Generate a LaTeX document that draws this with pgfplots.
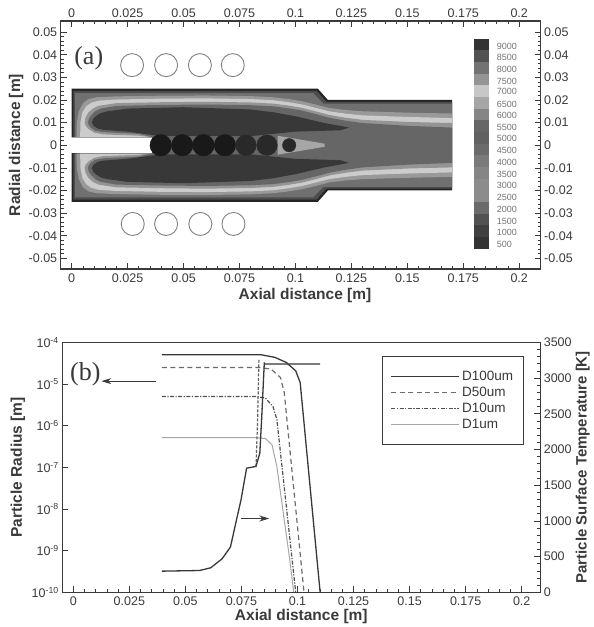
\documentclass[border=0pt]{standalone}
\usepackage{pgfplots}
\pgfplotsset{compat=1.18}
\usepackage{pgfplotstable}
\usepackage{fontspec}
\usetikzlibrary{arrows.meta}
\setmainfont{Liberation Sans}
\newfontfamily\serifnum{Liberation Serif}
\definecolor{ink}{HTML}{3a3a3a}
\pgfplotstableread{
x y
0 .0035
0 .025
.110 .025
.1145 .020
.170 .020
.170 0
.036 0
.036 .0035
}\SA
\pgfplotstableread{
x y
.0008 .0036
.0008 .0240
.1095 .0240
.1138 .0192
.170 .0192
.170 0
.036 0
.036 .0036
}\SB
\pgfplotstableread{
x y
.0016 .0037
.0016 .0230
.108 .0230
.1125 .0184
.170 .0184
.170 0
.036 0
.036 .0037
}\SBB
\pgfplotstableread{
x y
.0022 .0037
.0023 .010
.0032 .0150
.0050 .0185
.0075 .0204
.011 .0212
.02 .0216
.04 .0219
.06 .0220
.08 .0217
.09 .0212
.097 .0204
.103 .0194
.109 .0180
.115 .0165
.122 .0156
.13 .0150
.15 .0144
.17 .0140
.17 0
.036 0
.036 .0037
}\SC
\pgfplotstableread{
x y
.0038 .0037
.0039 .010
.0048 .0145
.0065 .0172
.0088 .0188
.012 .0197
.02 .0202
.04 .0206
.06 .0207
.08 .0204
.09 .0199
.097 .0190
.103 .0180
.109 .0165
.115 .0150
.122 .0140
.13 .0132
.15 .0125
.17 .0120
.17 0
.036 0
.036 .0037
}\SD
\pgfplotstableread{
x y
.0058 .0100
.0062 .0122
.0075 .0145
.0095 .0162
.012 .0174
.02 .0186
.04 .0190
.06 .0192
.08 .0189
.09 .0184
.097 .0175
.103 .0165
.109 .0150
.115 .0134
.122 .0122
.13 .0112
.15 .0103
.17 .0098
.17 0
.036 0
.036 .0035
.03 .0042
.014 .0048
.0100 .0056
.0075 .0072
.0063 .0086
}\SE
\pgfplotstableread{
x y
.0072 .0100
.0078 .0120
.009 .0135
.0105 .0150
.013 .0162
.02 .0174
.04 .0178
.06 .0180
.08 .0177
.09 .0172
.097 .0163
.103 .0153
.109 .0138
.115 .0122
.122 .0109
.13 .0098
.15 .0086
.17 .0078
.17 0
.036 0
.036 .0035
.03 .0050
.014 .0058
.0105 .0064
.0085 .0078
.0076 .0090
}\SF
\pgfplotstableread{
x y
.0090 .0100
.0097 .0118
.011 .0130
.013 .0142
.016 .0150
.025 .0162
.05 .0168
.08 .0158
.09 .0146
.1 .0128
.113 .0098
.124 .0078
.12 .0066
.1 .0060
.08 .0040
.04 .0040
.025 .0060
.014 .0068
.0115 .0074
.0098 .0086
}\SG
\newcommand\band[3]{\addplot[fill=#3,draw=none] coordinates {(.1798,#1)(.1865,#1)(.1865,#2)(.1798,#2)} --cycle;}
\newcommand\blab[2]{\node[font=\fontsize{9}{10}\selectfont,text=black!55,anchor=west,inner sep=0pt] at (axis cs:.1899,#1) {#2};}
\newcommand\layer[2]{%
\addplot[fill=#2,draw=none] table[x=x,y=y] {#1} --cycle;
\addplot[fill=#2,draw=none] table[x=x,y expr=-\thisrow{y}] {#1} --cycle;}
\pgfplotsset{
 common/.style={scale only axis,clip=false,
  axis line style={ink,line width=1.1pt},
  tick style={ink,line width=.7pt},
  major tick length=6pt,minor tick length=3pt,
  scaled x ticks=false,scaled y ticks=false,
  ticklabel style={font=\fontsize{12.5}{14}\selectfont,text=ink},
  label style={font=\fontsize{15.5}{17}\selectfont\bfseries,text=ink},
  xtick={0,.025,.05,.075,.1,.125,.15,.175,.2},
  xticklabels={0,0.025,0.05,0.075,0.1,0.125,0.15,0.175,0.2},
  minor x tick num=4,
  xticklabel style={yshift=-1pt},
 },
 ya/.style={ytick={-.05,-.04,-.03,-.02,-.01,0,.01,.02,.03,.04,.05},
  yticklabels={-0.05,-0.04,-0.03,-0.02,-0.01,0,0.01,0.02,0.03,0.04,0.05},
  minor y tick num=4}
}
\begin{document}
\begin{tikzpicture}[x=1pt,y=1pt]
\path (0,0) rectangle (591,627);
% ---------- panel (a)
\begin{axis}[common,ya,at={(60.7pt,358pt)},anchor=south west,width=480pt,height=248pt,
 xmin=-.0049,xmax=.2096,ymin=-.0547,ymax=.0549,
 xtick pos=bottom,ytick pos=left,axis on top,
 xlabel={Axial distance [m]},ylabel={Radial distance [m]},
 xlabel style={at={(axis description cs:.509,0)},anchor=center,yshift=-26pt},
 ylabel style={at={(axis description cs:-.093,.5)},anchor=center}]
\layer{\SA}{black!86}
\layer{\SB}{black!70}
\layer{\SBB}{black!56}
\layer{\SC}{black!40}
\layer{\SD}{black!20}
\layer{\SE}{black!42}
\layer{\SF}{black!60}
\layer{\SG}{black!78}
\addplot[fill=black!35,draw=none] coordinates {(.092,.0042)(.113,.0007)(.113,-.0007)(.092,-.0042)} --cycle;
\addplot[only marks,mark=*,mark size=10.8pt,mark options={fill=black!90,draw=black!90}] coordinates {(.0398,0)(.0494,0)(.0589,0)(.0685,0)};
\addplot[only marks,mark=*,mark size=10.3pt,mark options={fill=black!84,draw=black!84}] coordinates {(.0779,0)(.0873,0)};
\addplot[only marks,mark=*,mark size=6.7pt,mark options={fill=black!84,draw=black!84}] coordinates {(.0972,0)};
\addplot[only marks,mark=o,mark size=11.5pt,mark options={draw=black!50,line width=.9pt}] coordinates {(.027,.0354)(.0422,.0354)(.0573,.0354)(.072,.0354)(.0273,-.0348)(.0422,-.0348)(.0575,-.0348)(.0723,-.0348)};
\band{.04705}{.0419}{black!80}
\band{.0419}{.03675}{black!68}
\band{.03675}{.0316}{black!55}
\band{.0316}{.02645}{black!42}
\band{.02645}{.0213}{black!22}
\band{.0213}{.01615}{black!35}
\band{.01615}{.011}{black!48}
\band{.011}{.00585}{black!60}
\band{.00585}{.0007}{black!62}
\band{.0007}{-.00445}{black!58}
\band{-.00445}{-.0096}{black!52}
\band{-.0096}{-.01475}{black!48}
\band{-.01475}{-.0199}{black!45}
\band{-.0199}{-.02505}{black!45}
\band{-.02505}{-.0302}{black!58}
\band{-.0302}{-.03535}{black!68}
\band{-.03535}{-.0405}{black!75}
\band{-.0405}{-.04565}{black!80}
\blab{.0437}{9000}\blab{.0386}{8500}\blab{.0336}{8000}\blab{.0284}{7500}
\blab{.0236}{7000}\blab{.0182}{6500}\blab{.0132}{6000}\blab{.0079}{5500}
\blab{.0028}{5000}\blab{-.0024}{4500}\blab{-.0075}{4000}\blab{-.0127}{3500}
\blab{-.0178}{3000}\blab{-.0232}{2500}\blab{-.0282}{2000}\blab{-.0335}{1500}
\blab{-.0385}{1000}\blab{-.0437}{500}
\node[font=\serifnum\fontsize{26}{28}\selectfont,text=ink,anchor=west,inner sep=0pt] at (axis cs:.0011,.0385) {(a)};
\end{axis}
\begin{axis}[common,ya,at={(60.7pt,358pt)},anchor=south west,width=480pt,height=248pt,
 xmin=-.0049,xmax=.2096,ymin=-.0547,ymax=.0549,
 xtick pos=top,ytick pos=right,xticklabel pos=top,yticklabel pos=right,
 xticklabel style={yshift=1pt},
 yticklabel style={anchor=west},
 axis line style={draw=none}]
\addplot[draw=none] coordinates {(0,0)};
\end{axis}
% ---------- panel (b)
\begin{axis}[common,at={(62.3pt,34.7pt)},anchor=south west,width=478pt,height=250pt,
 ymode=log,log basis y=10,
 xmin=-.0049,xmax=.2083,ymin=1e-10,ymax=1e-4,
 xtick pos=bottom,ytick pos=left,
 ytick={1e-10,1e-9,1e-8,1e-7,1e-6,1e-5,1e-4},
 yticklabels={10\textsuperscript{-10},10\textsuperscript{-9},10\textsuperscript{-8},10\textsuperscript{-7},10\textsuperscript{-6},10\textsuperscript{-5},10\textsuperscript{-4}},
 xlabel={Axial distance [m]},ylabel={Particle Radius [m]},
 xlabel style={at={(axis description cs:.5,0)},anchor=center,yshift=-24pt},
 ylabel style={at={(axis description cs:-.0927,.5)},anchor=center},
 legend style={at={(.6695,.946)},anchor=north west,draw=ink,line width=.9pt,
   font=\fontsize{13.5}{15}\selectfont\color{ink},inner xsep=8pt,inner ysep=13pt,
   row sep=1pt,legend cell align=left},
 legend image code/.code={\draw[#1] (0pt,0pt) -- (58pt,0pt); \path (0pt,0pt) -- (68pt,0pt);}]
\addplot[black!78,line width=1.3pt] coordinates {(.0395,5e-5)(.084,5e-5)(.0899,4.35e-5)(.095,3.29e-5)(.0992,2.07e-5)(.1012,1.08e-5)(.1101,1e-10)};
\addlegendentry{D100um}
\addplot[black!58,line width=1.2pt,dash pattern=on 5pt off 3.5pt] coordinates {(.0395,2.49e-5)(.0832,2.49e-5)(.0882,2.27e-5)(.0924,1.43e-5)(.0941,6.2e-6)(.1029,1e-10)};
\addlegendentry{D50um}
\addplot[black!68,line width=1.2pt,dash pattern=on 4pt off 1.5pt on 1.2pt off 1.5pt] coordinates {(.0395,5e-6)(.0815,5e-6)(.0857,4.6e-6)(.0891,2.85e-6)(.0908,1.41e-6)(.0992,1e-10)};
\addlegendentry{D10um}
\addplot[black!35,line width=1pt] coordinates {(.0395,5.16e-7)(.0815,5.16e-7)(.0857,4.9e-7)(.0886,3.5e-7)(.0908,1.05e-7)(.0966,5.8e-10)(.0983,1e-10)};
\addlegendentry{D1um}
\addplot[forget plot,ink,line width=1pt,-{Stealth[length=10pt,width=6pt]}] coordinates {(.0370,1.17e-5)(.0125,1.17e-5)};
\addplot[forget plot,ink,line width=1pt,-{Stealth[length=10pt,width=6pt]}] coordinates {(.0748,5.9e-9)(.0874,5.9e-9)};
\node[font=\serifnum\fontsize{26}{28}\selectfont,text=ink,anchor=west,inner sep=0pt] at (axis cs:-.0015,1.75e-5) {(b)};
\end{axis}
\begin{axis}[common,at={(62.3pt,34.7pt)},anchor=south west,width=478pt,height=250pt,
 xmin=-.0049,xmax=.2083,ymin=0,ymax=3500,
 xtick=\empty,minor x tick num=0,ytick pos=right,yticklabel pos=right,
 ytick={0,500,1000,1500,2000,2500,3000,3500},
 yticklabels={0,500,1000,1500,2000,2500,3000,3500},
 minor y tick num=4,
 yticklabel style={anchor=west},
 ylabel={Particle Surface Temperature [K]},
 ylabel style={at={(axis description cs:1.089,.5)},anchor=center,font=\fontsize{15}{17}\selectfont\bfseries}]
\addplot[black!62,line width=1.2pt,dash pattern=on 3pt off 1.5pt] coordinates {(.0815,1762)(.0822,2400)(.0828,3260)};
\addplot[black!78,line width=1.3pt] coordinates {(.0395,296)(.0563,305)(.0613,343)(.0664,470)(.0701,634)(.0731,1057)(.0748,1292)(.0773,1738)(.0815,1762)(.0832,1950)(.084,2420)(.0852,3218)(.0852,3195)(.1101,3195)};
\end{axis}
\end{tikzpicture}
\end{document}
